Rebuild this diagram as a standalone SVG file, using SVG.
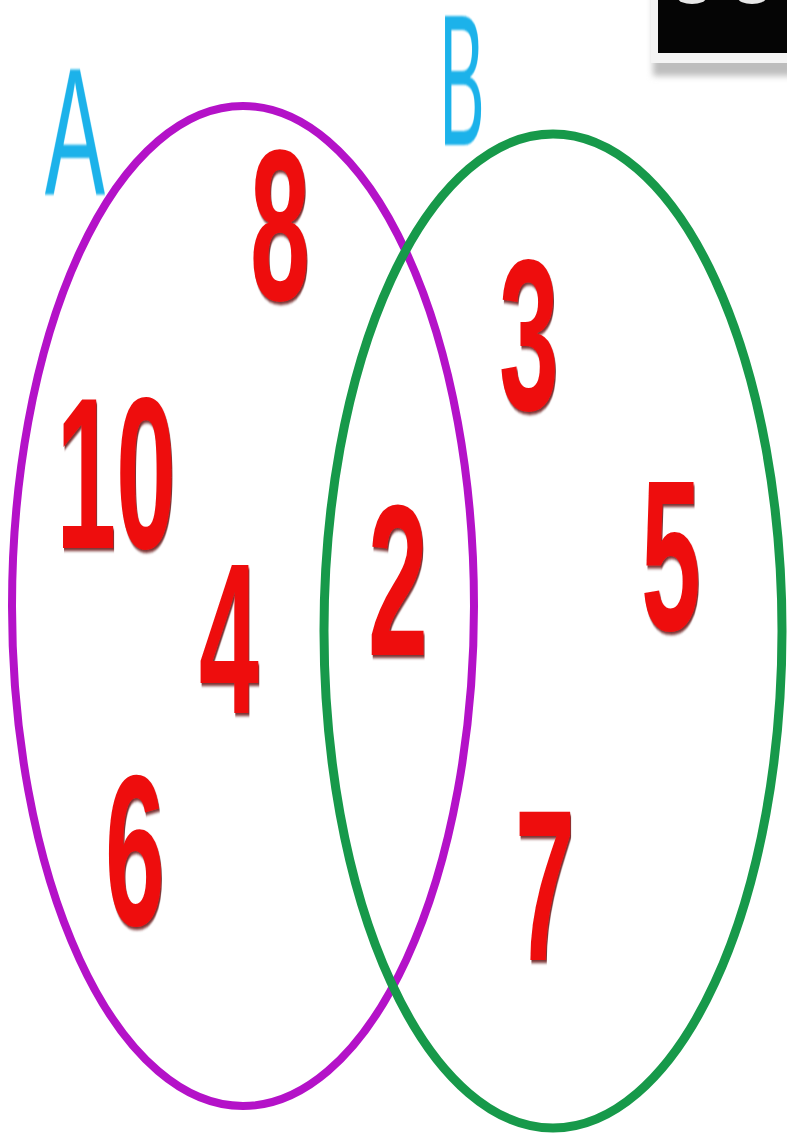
<svg xmlns="http://www.w3.org/2000/svg" width="787" height="1137" viewBox="0 0 787 1137">
<style>
.num{font-family:"Liberation Sans",Arial,sans-serif;font-weight:bold;font-size:215px;fill:#ee1111;text-anchor:middle;filter:url(#sh)}
.lbl{font-family:"Liberation Sans",Arial,sans-serif;fill:#1ab2ea;text-anchor:middle;filter:url(#blur)}
</style>
<defs>
<filter id="sh" x="-20%" y="-20%" width="140%" height="140%">
<feDropShadow dx="2" dy="3" stdDeviation="1.5" flood-color="#5a0000" flood-opacity="0.8"/>
</filter>
<filter id="blur"><feGaussianBlur stdDeviation="0.8"/></filter>
<filter id="bs"><feGaussianBlur stdDeviation="3"/></filter>
</defs>
<rect width="787" height="1137" fill="#ffffff"/>
<g id="box">
<rect x="653" y="-10" width="140" height="86" fill="#bdbdbd" filter="url(#bs)"/>
<rect x="651" y="-10" width="140" height="73" fill="#f4f4f4"/>
<rect x="658" y="-10" width="135" height="63" fill="#050505"/>
<ellipse cx="692" cy="-2" rx="14" ry="6" fill="#e8e8e8"/>
<ellipse cx="752" cy="-2" rx="14" ry="6" fill="#e8e8e8"/>
</g>
<g id="setA">
<ellipse cx="243" cy="606" rx="231" ry="500" fill="none" stroke="#b412c8" stroke-width="8"/>
</g>
<g id="setB">
<ellipse cx="553" cy="631" rx="229" ry="497" fill="none" stroke="#17994a" stroke-width="9"/>
</g>
<g id="labels">
<text class="lbl" font-size="181" transform="translate(75,195) scale(0.5,1)">A</text>
<text class="lbl" font-size="188" transform="translate(462,145) scale(0.36,1)">B</text>
</g>
<g id="elements">
<text class="num" transform="translate(280,300) scale(0.5,1)">8</text>
<text class="num" transform="translate(529,410) scale(0.5,1)">3</text>
<text class="num" transform="translate(116,548) scale(0.5,1)">10</text>
<text class="num" transform="translate(398,655) scale(0.5,1)">2</text>
<text class="num" transform="translate(671,630) scale(0.5,1)">5</text>
<text class="num" transform="translate(229,713) scale(0.5,1)">4</text>
<text class="num" transform="translate(135,925) scale(0.5,1)">6</text>
<text class="num" transform="translate(545,960) scale(0.5,1)">7</text>
</g>
</svg>
